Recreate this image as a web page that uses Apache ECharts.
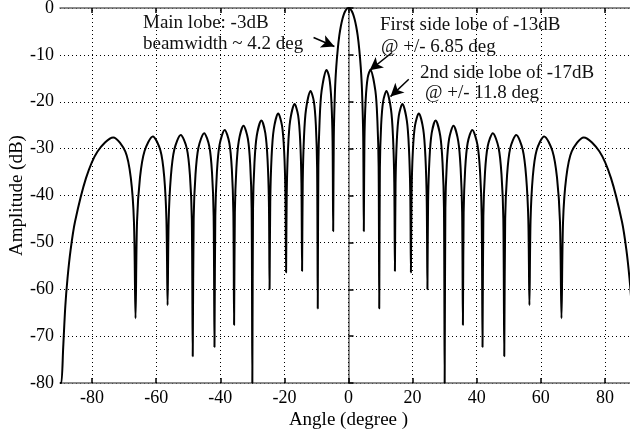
<!DOCTYPE html>
<html>
<head>
<meta charset="utf-8">
<script src="https://cdn.jsdelivr.net/npm/echarts@6/dist/echarts.min.js"></script>
<style>
html,body{margin:0;padding:0;background:#fff;}
#chart{width:630px;height:434px;}
</style>
</head>
<body>
<div id="chart"></div>
<script>
// Angle (degree) samples, from -90 to 90
const angles = [
  -90, -89.6, -89.0, -88.35, -87.66, -86.69, -85.32, -81.89, -78.29, -73.40, -69.64, -67.92, -66.93,
  -66.44, -65.97, -65.05, -63.62, -61.05, -58.67, -57.49, -56.79,
  -56.44, -56.10, -55.42, -54.34, -52.34, -50.43, -49.46, -48.88,
  -48.59, -48.30, -47.73, -46.82, -45.03, -43.43, -42.58, -42.07,
  -41.81, -41.55, -41.05, -40.23, -38.62, -37.17, -36.39, -35.92,
  -35.69, -35.45, -34.98, -34.23, -32.74, -31.39, -30.66, -30.22,
  -30.00, -29.78, -29.34, -28.63, -27.17, -25.95, -25.26, -24.83,
  -24.62, -24.41, -24.00, -23.32, -21.92, -20.74, -20.08, -19.67,
  -19.47, -19.27, -18.86, -18.21, -16.81, -15.71, -15.07, -14.68,
  -14.48, -14.28, -13.89, -13.25, -11.83, -10.81, -10.18, -9.79,
  -9.59, -9.40, -9.01, -8.39, -6.84, -5.98, -5.36, -4.97,
  -4.78, -4.59, -4.21, -3.82, -3.34, -2.87, -2.39, -1.91, -1.43, -0.96, -0.48,
  0,
  0.48, 0.96, 1.43, 1.91, 2.39, 2.87, 3.34, 3.82, 4.21, 4.59, 4.78,
  4.97, 5.36, 5.98, 6.84, 8.39, 9.01, 9.40, 9.59,
  9.79, 10.18, 10.81, 11.83, 13.25, 13.89, 14.28, 14.48,
  14.68, 15.07, 15.71, 16.81, 18.21, 18.86, 19.27, 19.47,
  19.67, 20.08, 20.74, 21.92, 23.32, 24.00, 24.41, 24.62,
  24.83, 25.26, 25.95, 27.17, 28.63, 29.34, 29.78, 30.00,
  30.22, 30.66, 31.39, 32.74, 34.23, 34.98, 35.45, 35.69,
  35.92, 36.39, 37.17, 38.62, 40.23, 41.05, 41.55, 41.81,
  42.07, 42.58, 43.43, 45.03, 46.82, 47.73, 48.30, 48.59,
  48.88, 49.46, 50.43, 52.34, 54.34, 55.42, 56.10, 56.44,
  56.79, 57.49, 58.67, 61.05, 63.62, 65.05, 65.97, 66.44,
  66.93, 67.92, 69.64, 73.40, 78.29, 81.89, 85.32, 86.69, 87.66, 88.35, 89.0, 89.6, 90
];
// Amplitude (dB) at each angle above
const amplitudeDb = [
  -80, -80, -72.4, -63.7, -57.7, -51.6, -45.6, -36.3, -30.6, -27.6, -30.6, -36.2, -45.6,
  -66.2, -45.6, -36.2, -30.5, -27.4, -30.4, -36.0, -45.4,
  -63.4, -45.3, -36.0, -30.2, -27.1, -30.0, -35.7, -45.0,
  -74.3, -44.9, -35.5, -29.8, -26.7, -29.5, -35.1, -44.4,
  -72.3, -44.4, -35.0, -29.2, -26.0, -28.8, -34.4, -43.7,
  -67.6, -43.6, -34.2, -28.4, -25.1, -27.9, -33.4, -42.7,
  -80, -42.6, -33.1, -27.3, -24.0, -26.7, -32.2, -41.4,
  -60.0, -41.3, -31.8, -25.9, -22.5, -25.1, -30.5, -39.7,
  -56.4, -39.5, -30.0, -24.1, -20.5, -22.9, -28.3, -37.4,
  -56.1, -37.2, -27.6, -21.6, -17.7, -19.9, -25.0, -34.1,
  -64.1, -33.7, -24.0, -17.7, -13.2, -14.9, -19.6, -28.3,
  -47.6, -27.6, -17.5, -12.6, -8.7, -5.9, -3.9, -2.4, -1.3, -0.6, -0.1,
  0,
  -0.1, -0.6, -1.3, -2.4, -3.9, -5.9, -8.7, -12.6, -17.5, -27.6, -47.6,
  -28.3, -19.6, -14.9, -13.2, -17.7, -24.0, -33.7, -64.1,
  -34.1, -25.0, -19.9, -17.7, -21.6, -27.6, -37.2, -56.1,
  -37.4, -28.3, -22.9, -20.5, -24.1, -30.0, -39.5, -56.4,
  -39.7, -30.5, -25.1, -22.5, -25.9, -31.8, -41.3, -60.0,
  -41.4, -32.2, -26.7, -24.0, -27.3, -33.1, -42.6, -80,
  -42.7, -33.4, -27.9, -25.1, -28.4, -34.2, -43.6, -67.6,
  -43.7, -34.4, -28.8, -26.0, -29.2, -35.0, -44.4, -72.3,
  -44.4, -35.1, -29.5, -26.7, -29.8, -35.5, -44.9, -74.3,
  -45.0, -35.7, -30.0, -27.1, -30.2, -36.0, -45.3, -63.4,
  -45.4, -36.0, -30.4, -27.4, -30.5, -36.2, -45.6, -66.2,
  -45.6, -36.2, -30.6, -27.6, -30.6, -36.3, -45.6, -51.6, -57.7, -63.7, -72.4, -80, -80
];
const xTicks = [-80, -60, -40, -20, 0, 20, 40, 60, 80];
const yTicks = [0, -10, -20, -30, -40, -50, -60, -70, -80];
const annotations = [
  'Main lobe: -3dB',
  'beamwidth ~ 4.2 deg',
  'First side lobe of -13dB',
  '@ +/- 6.85 deg',
  '2nd side lobe of -17dB',
  '@ +/- 11.8 deg'
];

const serif = '"Liberation Serif", "Times New Roman", serif';
const chart = echarts.init(document.getElementById('chart'), null, {renderer: 'canvas'});
const dotted = {type: [1, 3], color: '#000', width: 1};

const textEl = (txt, x, y) => ({
  type: 'text', x: x, y: y, z: 100,
  style: {text: txt, font: '19px ' + serif, fill: '#111', verticalAlign: 'middle', textVerticalAlign: 'middle', align: 'left'}
});

const option = {
  animation: false,
  backgroundColor: '#fff',
  grid: {left: 60, right: -7, top: 8, bottom: 51, containLabel: false, outerBoundsMode: 'none'},
  xAxis: [{
    type: 'value', min: -90, max: 90, position: 'bottom',
    name: 'Angle (degree )', nameLocation: 'middle', nameGap: 28, nameMoveOverlap: false,
    nameTextStyle: {fontFamily: serif, fontSize: 19, color: '#000'},
    axisLine: {show: true, onZero: false, lineStyle: {color: '#666', width: 1.5}},
    axisTick: {show: true, inside: true, length: 5, customValues: xTicks, lineStyle: {color: '#000', width: 1.5}},
    axisLabel: {customValues: xTicks, fontFamily: serif, fontSize: 18, color: '#000', margin: 6},
    splitLine: {show: false}
  }, {
    type: 'value', min: -90, max: 90, position: 'top',
    axisLine: {show: true, onZero: false, lineStyle: {color: '#666', width: 1.5}},
    axisTick: {show: true, inside: true, length: 5, customValues: xTicks, lineStyle: {color: '#000', width: 1.5}},
    axisLabel: {show: false},
    splitLine: {show: false}
  }],
  yAxis: {
    type: 'value', min: -80, max: 0, interval: 10,
    name: 'Amplitude (dB)', nameLocation: 'middle', nameGap: 33, nameRotate: 90, nameMoveOverlap: false,
    nameTextStyle: {fontFamily: serif, fontSize: 19, color: '#000'},
    axisLine: {show: true, lineStyle: {color: '#666', width: 1.5}},
    axisTick: {show: true, inside: true, length: 5, lineStyle: {color: '#000', width: 1.5}},
    axisLabel: {fontFamily: serif, fontSize: 18, color: '#000', margin: 6},
    splitLine: {show: true, lineStyle: dotted}
  },
  series: [{
    type: 'line', data: [], z: 1, silent: true,
    markLine: {
      silent: true, symbol: 'none', animation: false,
      label: {show: false},
      lineStyle: dotted,
      data: xTicks.map(v => ({xAxis: v}))
    }
  }, {
    type: 'line', z: 3,
    data: angles.map((a, i) => [a, amplitudeDb[i]]),
    showSymbol: false, symbol: 'none', smooth: 0.3,
    lineStyle: {color: '#000', width: 2},
    markLine: {
      silent: true, animation: false,
      symbol: ['none', 'arrow'], symbolSize: [10, 13],
      label: {show: false},
      lineStyle: {color: '#000', width: 1.5, type: 'solid'},
      data: [
        [{coord: [-10.9, -6.3]}, {coord: [-4.4, -8.2]}],
        [{coord: [13.6, -9.5]}, {coord: [6.6, -13.3]}],
        [{coord: [18.8, -15.2]}, {coord: [13.1, -18.9]}]
      ]
    }
  }],
  graphic: [
    textEl(annotations[0], 143, 23),
    textEl(annotations[1], 143, 44.5),
    textEl(annotations[2], 380, 25),
    textEl(annotations[3], 381, 47),
    textEl(annotations[4], 420, 73),
    textEl(annotations[5], 425, 93.5)
  ]
};
chart.setOption(option);
</script>
</body>
</html>
